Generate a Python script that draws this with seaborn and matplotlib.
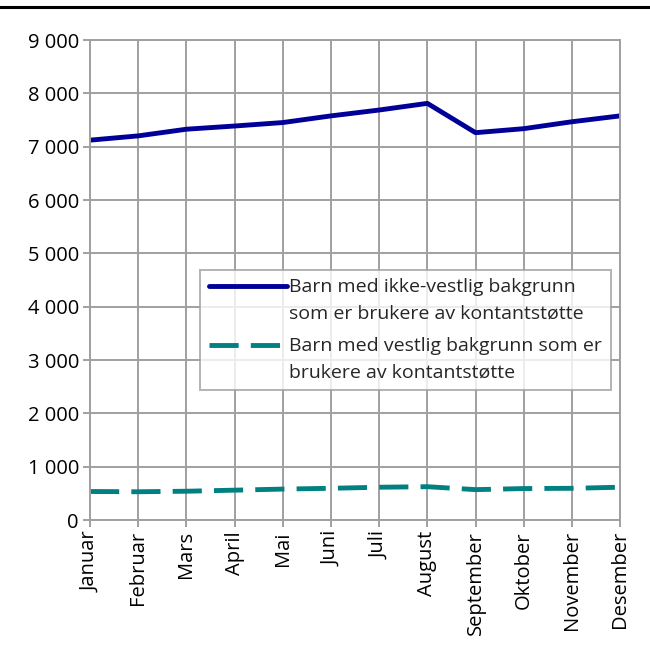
import matplotlib
matplotlib.use("Agg")
import matplotlib.pyplot as plt
from matplotlib.lines import Line2D
from matplotlib.legend_handler import HandlerLine2D
from matplotlib.ticker import FuncFormatter, MultipleLocator
import seaborn as sns
import pandas as pd

months = ["Januar", "Februar", "Mars", "April", "Mai", "Juni", "Juli",
          "August", "September", "Oktober", "November", "Desember"]
ikke_vestlig = [7125, 7205, 7330, 7390, 7455, 7580, 7690, 7815, 7265, 7340, 7470, 7580]
vestlig = [535, 530, 540, 560, 580, 595, 615, 625, 570, 590, 595, 615]

label1 = "Barn med ikke-vestlig bakgrunn\nsom er brukere av kontantstøtte"
label2 = "Barn med vestlig bakgrunn som er\nbrukere av kontantstøtte"

sns.set_style("white")
plt.rcParams['font.family'] = ['Open Sans', 'DejaVu Sans']

df = pd.DataFrame({
    "x": list(range(len(months))) * 2,
    "value": ikke_vestlig + vestlig,
    "series": [label1] * len(months) + [label2] * len(months),
})

fig = plt.figure(figsize=(6.5, 6.48), dpi=100)
ax = fig.add_axes([0.1385, 0.1975, 0.954 - 0.1385, 0.938 - 0.1975])

sns.lineplot(data=df, x="x", y="value", hue="series", style="series",
             palette={label1: "#000099", label2: "#008080"},
             dashes={label1: "", label2: (6, 2.5)},
             linewidth=3.5, ax=ax, legend=True)

ax.set_xlim(0, len(months) - 1)
ax.set_ylim(0, 9000)
ax.yaxis.set_major_locator(MultipleLocator(1000))
ax.yaxis.set_major_formatter(FuncFormatter(lambda v, p: f"{int(v):,}".replace(",", " ")))
ax.set_xticks(range(len(months)))
ax.set_xticklabels(months, rotation=90)
ax.set_xlabel("")
ax.set_ylabel("")

grid_c = "#a0a0a0"
ax.grid(True, color=grid_c, linewidth=1.4)
ax.set_axisbelow(True)
for s in ax.spines.values():
    s.set_color(grid_c)
    s.set_linewidth(1.4)
ax.tick_params(axis="both", which="major", length=5, width=1.4, color=grid_c,
               labelsize=14.5, labelcolor="black", pad=3, direction="out",
               left=True, bottom=True)


class TopLineHandler(HandlerLine2D):
    def create_artists(self, legend, orig_handle, xdescent, ydescent,
                       width, height, fontsize, trans):
        arts = super().create_artists(legend, orig_handle, xdescent, ydescent,
                                      width, height, fontsize, trans)
        for a in arts:
            if isinstance(a, Line2D):
                a.set_ydata([y + 10.5 for y in a.get_ydata()])
        return arts


handles, labels = ax.get_legend_handles_labels()
leg = ax.legend(handles, labels, loc="upper left", bbox_to_anchor=(0.208, 0.522),
                fontsize=14, frameon=True, fancybox=False, handlelength=4.0,
                handletextpad=0.12, borderpad=0.45, labelspacing=0.75,
                borderaxespad=0, handler_map={Line2D: TopLineHandler()})
leg.get_frame().set_edgecolor(grid_c)
leg.get_frame().set_linewidth(1.4)
for t in leg.get_texts():
    t.set_linespacing(1.6)
for h in leg.get_lines():
    h.set_linewidth(3.5)

fig.add_artist(Line2D([0, 1], [0.9895, 0.9895], transform=fig.transFigure,
                      color="black", linewidth=2.2))

fig.savefig("out.png", dpi=100)
